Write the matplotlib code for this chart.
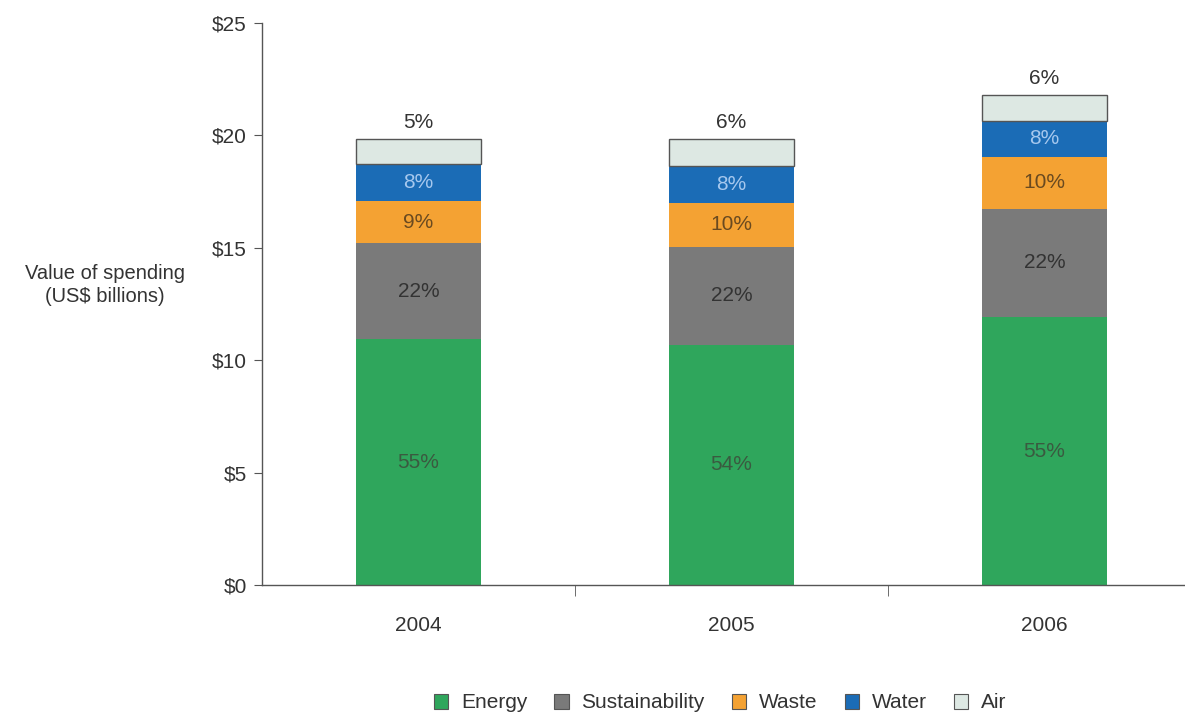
import numpy as np
import matplotlib
matplotlib.use('Agg')
import matplotlib.pyplot as plt
from matplotlib.patches import Patch

plt.rcParams['font.family'] = ['Liberation Sans', 'DejaVu Sans']

# Adatok (US$ milliard)
years = ['2004', '2005', '2006']
energy = [10.94, 10.68, 11.92]
sustainability = [4.27, 4.36, 4.81]
waste = [1.87, 1.95, 2.31]
water = [1.65, 1.65, 1.60]
air = [1.11, 1.20, 1.16]

energy_pct = ['55%', '54%', '55%']
sust_pct = ['22%', '22%', '22%']
waste_pct = ['9%', '10%', '10%']
water_pct = ['8%', '8%', '8%']
air_pct = ['5%', '6%', '6%']

series = [
    ('Energy', energy, energy_pct, '#2fa65c', '#3a5a40'),
    ('Sustainability', sustainability, sust_pct, '#7a7a7a', '#333333'),
    ('Waste', waste, waste_pct, '#f4a233', '#6a4a20'),
    ('Water', water, water_pct, '#1b6cb6', '#a6c8ee'),
    ('Air', air, air_pct, '#dde8e3', '#333333'),
]

fs = 15

fig = plt.figure(figsize=(11.85, 7.16), dpi=100)
ax = fig.add_axes([262 / 1185, 131 / 716, 939 / 1185, 562 / 716])

x = np.arange(len(years))
width = 0.40
bottom = np.zeros(len(years))

for name, vals, pcts, col, tcol in series:
    vals = np.array(vals)
    ax.bar(x, vals, width, bottom=bottom, color=col, edgecolor='none')
    for i in range(len(years)):
        if name == 'Air':
            ax.text(x[i], bottom[i] + vals[i] + 0.3, pcts[i], ha='center', va='bottom',
                    fontsize=fs, color=tcol)
        else:
            ax.text(x[i], bottom[i] + vals[i] / 2, pcts[i], ha='center', va='center',
                    fontsize=fs, color=tcol)
    bottom = bottom + vals

# Air szegmens körvonala
top_start = bottom - np.array(air)
ax.bar(x, air, width, bottom=top_start, color='none', edgecolor='#555555', linewidth=1)

# Tengelyek
ax.set_xlim(-0.5, 2.5)
ax.set_ylim(0, 25)
ax.set_yticks([0, 5, 10, 15, 20, 25])
ax.set_yticklabels(['$0', '$5', '$10', '$15', '$20', '$25'], fontsize=fs, color='#333333')
ax.set_xticks(x)
ax.set_xticklabels(years, fontsize=fs, color='#333333')
ax.set_xticks([0.5, 1.5], minor=True)
ax.tick_params(axis='x', which='major', length=0, pad=22)
ax.tick_params(axis='x', which='minor', length=8, color='#555555', direction='out')
ax.tick_params(axis='y', length=6, color='#555555', direction='out', pad=5)

for s in ['top', 'right']:
    ax.spines[s].set_visible(False)
for s in ['left', 'bottom']:
    ax.spines[s].set_color('#555555')
    ax.spines[s].set_linewidth(1)

fig.text(105 / 1185, 1 - 285 / 716, 'Value of spending\n(US$ billions)', ha='center', va='center',
         fontsize=14.5, color='#333333', linespacing=1.3)

handles = [Patch(facecolor=col, edgecolor='#555555', linewidth=0.8, label=name)
           for name, vals, pcts, col, tcol in series]
fig.legend(handles=handles, loc='center', bbox_to_anchor=(720 / 1185, 1 - 703 / 716), ncol=5,
           frameon=False, fontsize=fs, handlelength=0.7, handleheight=0.7,
           handletextpad=0.6, columnspacing=1.3, labelcolor='#333333')

fig.savefig('out.png', dpi=100)
